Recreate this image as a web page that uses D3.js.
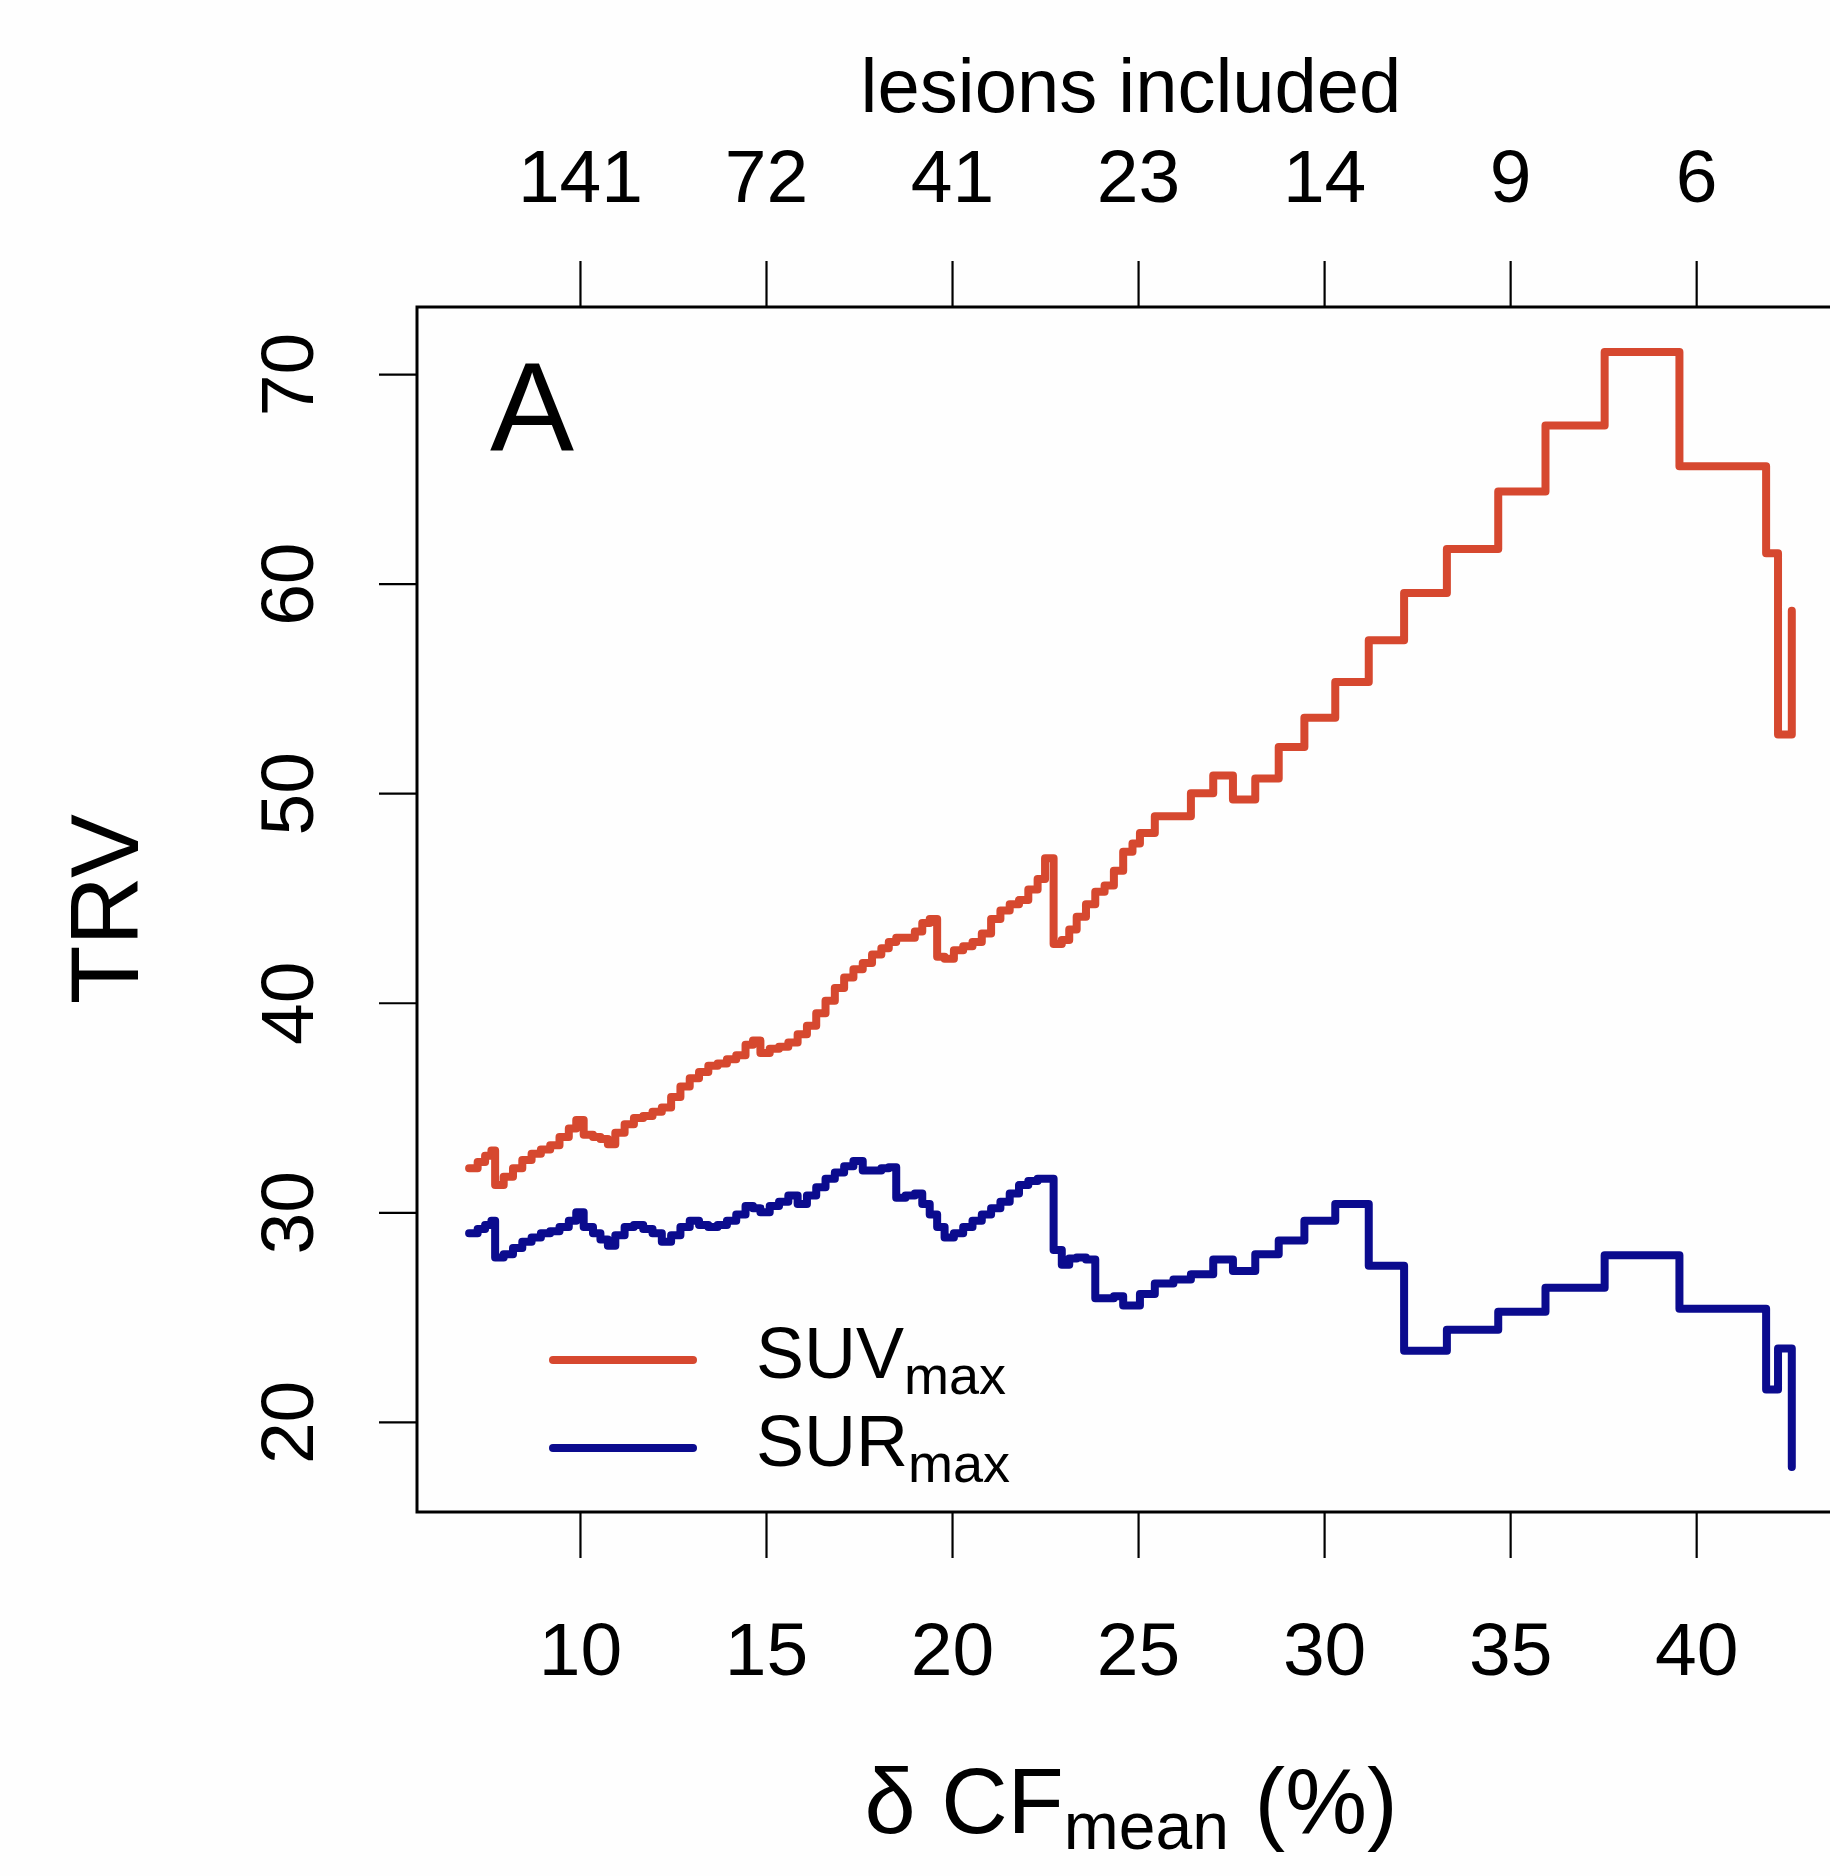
<!DOCTYPE html>
<html>
<head>
<meta charset="utf-8">
<script src="https://cdn.jsdelivr.net/npm/d3@7/dist/d3.min.js"></script>
<style>
body { margin: 0; background: #fefefe; }
text { font-family: "Liberation Sans", Arial, Helvetica, sans-serif; fill: #000; }
</style>
</head>
<body>
<div id="chart"></div>
<script>
// delta CF_mean threshold (%) where each step starts
const cfMean = [
  7.02, 7.25, 7.45, 7.62, 7.72, 7.95, 8.2, 8.45, 8.7, 8.95,
  9.2, 9.45, 9.7, 9.9, 10.1, 10.35, 10.55, 10.75, 10.95, 11.2,
  11.45, 11.7, 11.95, 12.2, 12.45, 12.7, 12.95, 13.2, 13.45, 13.7,
  13.95, 14.2, 14.45, 14.65, 14.85, 15.1, 15.35, 15.6, 15.85, 16.1,
  16.35, 16.6, 16.85, 17.1, 17.35, 17.6, 17.85, 18.1, 18.3, 18.5,
  18.75, 19.0, 19.2, 19.4, 19.6, 19.8, 20.05, 20.3, 20.55, 20.8,
  21.05, 21.3, 21.55, 21.8, 22.05, 22.3, 22.5, 22.73, 22.95, 23.15,
  23.35, 23.6, 23.85, 24.1, 24.35, 24.6, 24.85, 25.05, 25.45, 25.95,
  26.42, 27.02, 27.55, 28.15, 28.78, 29.47, 30.3, 31.2, 32.15, 33.3,
  34.68, 35.95, 37.54, 39.55, 41.88, 42.2, 42.57
];

const trvSUV = [
  32.1, 32.4, 32.7, 32.95, 31.3, 31.7, 32.1, 32.5, 32.8, 33.0,
  33.2, 33.6, 34.0, 34.4, 33.7, 33.6, 33.5, 33.25, 33.8, 34.2,
  34.5, 34.6, 34.8, 35.0, 35.5, 36.0, 36.4, 36.7, 37.0, 37.1,
  37.3, 37.5, 38.0, 38.2, 37.6, 37.8, 37.9, 38.1, 38.5, 38.9,
  39.5, 40.1, 40.7, 41.2, 41.6, 41.9, 42.3, 42.6, 42.9, 43.1,
  43.1, 43.4, 43.8, 44.0, 42.2, 42.1, 42.5, 42.7, 42.9, 43.3,
  44.0, 44.4, 44.7, 44.9, 45.4, 45.9, 46.9, 42.8, 43.0, 43.5,
  44.1, 44.7, 45.3, 45.6, 46.3, 47.2, 47.6, 48.1, 48.9, 48.9,
  50.0, 50.85, 49.7, 50.7, 52.2, 53.6, 55.3, 57.3, 59.55, 61.65,
  64.4, 67.55, 71.05, 65.6, 61.45, 52.8, 58.7
];

const trvSUR = [
  29.0, 29.2, 29.4, 29.6, 27.85, 28.0, 28.3, 28.6, 28.8, 29.0,
  29.1, 29.3, 29.6, 30.0, 29.3, 29.0, 28.7, 28.4, 28.9, 29.3,
  29.4, 29.2, 29.0, 28.6, 28.9, 29.3, 29.6, 29.4, 29.3, 29.4,
  29.6, 29.9, 30.3, 30.2, 30.0, 30.3, 30.5, 30.8, 30.4, 30.8,
  31.2, 31.6, 31.9, 32.2, 32.45, 32.0, 32.0, 32.1, 32.15, 30.7,
  30.8, 30.9, 30.4, 29.9, 29.3, 28.8, 29.0, 29.3, 29.6, 29.9,
  30.2, 30.5, 30.9, 31.3, 31.5, 31.6, 31.6, 28.2, 27.5, 27.8,
  27.85, 27.75, 25.9, 25.9, 26.0, 25.55, 25.55, 26.1, 26.6, 26.8,
  27.05, 27.75, 27.2, 28.0, 28.65, 29.6, 30.4, 27.45, 23.4, 24.4,
  25.25, 26.4, 27.95, 25.4, 21.55, 23.5, 17.85
];

const xTicks = [10, 15, 20, 25, 30, 35, 40];
const lesionLabels = ["141", "72", "41", "23", "14", "9", "6"];
const yTicks = [20, 30, 40, 50, 60, 70];

const suv_color = "#d6482f";
const sur_color = "#0b0b8e";

const WIDTH = 1830, HEIGHT = 1876;
const plot = {left: 417, top: 307, right: 1845, bottom: 1512};

const x = d3.scaleLinear().domain([5.62, 44.0]).range([plot.left, plot.right]);
const y = d3.scaleLinear().domain([15.7, 73.2]).range([plot.bottom, plot.top]);

const svg = d3.select("#chart")
  .append("svg")
  .attr("width", WIDTH)
  .attr("height", HEIGHT);

// step lines (R type = "s")
const stepLine = d3.line()
  .curve(d3.curveStepAfter)
  .x((d, i) => x(cfMean[i]))
  .y(d => y(d));

[[trvSUV, suv_color], [trvSUR, sur_color]].forEach(([vals, col]) => {
  svg.append("path")
    .attr("d", stepLine(vals))
    .attr("fill", "none")
    .attr("stroke", col)
    .attr("stroke-width", 8)
    .attr("stroke-linejoin", "round")
    .attr("stroke-linecap", "round");
});

// axes
const styleAxis = g => {
  g.select(".domain").remove();
  g.attr("font-size", 75).attr("font-family", null);
  g.selectAll(".tick line").attr("stroke", "#000").attr("stroke-width", 2.2);
};

svg.append("g")
  .attr("transform", `translate(0,${plot.bottom})`)
  .call(d3.axisBottom(x).tickValues(xTicks).tickSize(46).tickPadding(64).tickFormat(d3.format("d")))
  .call(styleAxis);

svg.append("g")
  .attr("transform", `translate(0,${plot.top})`)
  .call(d3.axisTop(x).tickValues(xTicks).tickSize(46).tickPadding(59).tickFormat((d, i) => lesionLabels[i]))
  .call(styleAxis);

svg.append("g")
  .attr("transform", `translate(${plot.left},0)`)
  .call(d3.axisLeft(y).tickValues(yTicks).tickSize(38).tickFormat(d3.format("d")))
  .call(styleAxis)
  .call(g => g.selectAll(".tick text")
    .attr("x", 0)
    .attr("dy", null)
    .attr("text-anchor", "middle")
    .attr("transform", "translate(-104,0) rotate(-90)"));

// frame
svg.append("rect")
  .attr("x", plot.left)
  .attr("y", plot.top)
  .attr("width", plot.right - plot.left)
  .attr("height", plot.bottom - plot.top)
  .attr("fill", "none")
  .attr("stroke", "#000")
  .attr("stroke-width", 3);

// titles
svg.append("text")
  .attr("x", 1131).attr("y", 112)
  .attr("text-anchor", "middle")
  .attr("font-size", 76)
  .text("lesions included");

const xTitle = svg.append("text")
  .attr("x", 1131).attr("y", 1833)
  .attr("text-anchor", "middle")
  .attr("font-size", 92);
xTitle.append("tspan").text("δ CF");
xTitle.append("tspan").attr("font-size", 66).attr("dy", 16).text("mean");
xTitle.append("tspan").attr("dy", -16).text(" (%)");

svg.append("text")
  .attr("transform", "translate(138,909) rotate(-90)")
  .attr("text-anchor", "middle")
  .attr("font-size", 96)
  .text("TRV");

svg.append("text")
  .attr("x", 490).attr("y", 450)
  .attr("font-size", 126)
  .text("A");

// legend
const legendItems = [["SUV", suv_color], ["SUR", sur_color]];
legendItems.forEach(([name, col], i) => {
  const ly = 1360 + i * 88;
  svg.append("line")
    .attr("x1", 553).attr("x2", 693)
    .attr("y1", ly).attr("y2", ly)
    .attr("stroke", col)
    .attr("stroke-width", 8)
    .attr("stroke-linecap", "round");
  const t = svg.append("text")
    .attr("x", 756).attr("y", ly + 18)
    .attr("font-size", 72);
  t.append("tspan").text(name);
  t.append("tspan").attr("font-size", 54).attr("dy", 16).text("max");
});
</script>
</body>
</html>
